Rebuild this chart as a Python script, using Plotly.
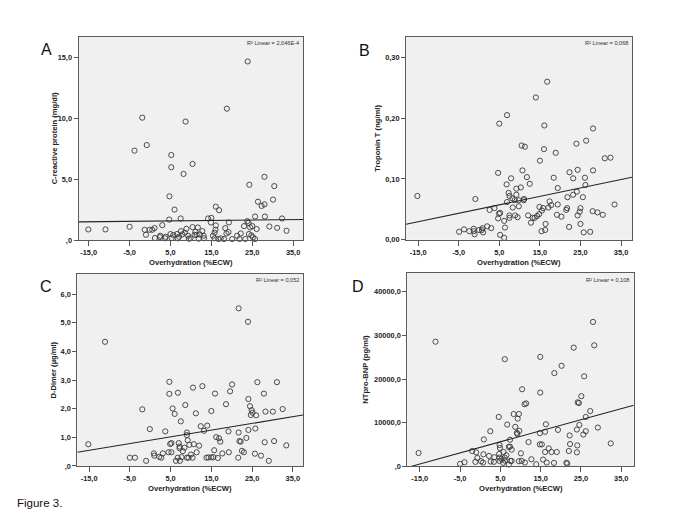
import plotly.graph_objects as go

W, H = 685, 513

# ---------------- data ----------------
x_ticks = [-15, -5, 5, 15, 25, 35]
x_tick_text = ["-15,0", "-5,0", "5,0", "15,0", "25,0", "35,0"]
x_title = "Overhydration (%ECW)"

# Panel A: C-reactive protein
oh_A = [23.9, -1.9, 18.8, 8.7, -0.8, -3.8, 5.2, 5.2, 10.4, 8.2,
        -15.1, -10.9, -5.0, -1.3, -1.0, -0.1, 0.55, 1.1, 3.0, 1.2,
        2.4, 2.5, 3.8, 3.7, 4.75, 6.0, 4.7, 7.5, 5.0, 5.3,
        5.7, 6.6, 6.8, 7.1, 7.6, 7.9, 8.5, 8.9, 9.3, 9.5,
        9.9, 10.4, 10.9, 11.1, 11.4, 11.9, 12.2, 11.7, 12.8, 13.1,
        13.2, 14.2, 15.0, 14.9, 16.1, 16.0, 16.1, 16.9, 15.4, 15.8,
        15.8, 16.7, 17.3, 18.1, 18.4, 18.7, 19.3, 19.2, 20.1, 21.3,
        21.9, 22.2, 23.0, 23.3, 23.8, 24.1, 24.3, 24.2, 24.5, 24.8,
        25.0, 25.2, 25.7, 25.7, 26.1, 26.4, 27.3, 28.0, 28.1, 28.0,
        29.2, 30.1, 30.4, 31.1, 32.3, 33.4]
crp_A = [14.67, 10.05, 10.79, 9.73, 7.8, 7.34, 6.98, 5.98, 6.25, 5.43,
         0.87, 0.87, 1.09, 0.84, 0.43, 0.84, 0.84, 0.98, 1.22, 0.16,
         0.24, 0.35, 0.27, 0.14, 3.59, 2.5, 1.68, 1.77, 0.49, 0.16,
         0.41, 0.49, 0.14, 0.27, 0.73, 0.46, 0.6, 0.92, 0.35, 0.11,
         0.14, 1.06, 0.43, 0.68, 0.43, 0.11, 0.46, 1.03, 0.73, 0.35,
         0.14, 1.77, 1.82, 1.44, 1.2, 0.84, 2.74, 2.45, 0.35, 0.6,
         0.14, 0.08, 0.14, 0.08, 0.98, 0.54, 1.44, 0.65, 0.08, 0.35,
         0.08, 0.54, 1.14, 0.08, 1.55, 1.41, 4.54, 0.49, 1.03, 0.38,
         1.14, 0.22, 0.08, 1.93, 0.9, 3.15, 2.8, 2.93, 1.93, 5.19,
         1.11, 3.32, 4.43, 1.0, 1.77, 0.76]

# Panel B: Troponin T
oh_B = [16.8, 14.0, 6.9, 5.0, 16.1, 28.1,
        -15.2, -0.9, -4.9, -3.7, -2.4, -1.3, -1.3, -1.1, 0.0, 0.7,
        0.9, 1.0, 2.0, 3.0, 2.6, 3.8, 4.7, 4.7, 4.9, 5.2,
        5.2, 6.2, 6.4, 6.2, 6.8, 6.9, 7.3, 7.5, 7.9, 7.5,
        7.5, 8.2, 8.3, 8.8, 8.9, 9.2, 9.2, 9.5, 9.8, 9.8,
        10.3, 10.7, 11.0, 11.8, 12.1, 12.5, 12.8, 13.2, 13.7, 14.3,
        14.8, 14.9, 15.0, 15.4, 15.5, 15.8, 16.0, 16.3, 16.4, 17.4,
        17.1, 17.8, 18.4, 18.9, 19.2, 19.4, 19.4, 20.3, 21.5, 21.7,
        21.8, 22.2, 22.3, 23.2, 23.2, 24.0, 24.1, 24.3, 24.3, 24.8,
        25.0, 25.0, 25.6, 25.8, 26.1, 26.2, 26.4, 27.4, 28.0, 28.1,
        29.2, 30.5, 31.0, 32.4, 33.4, 10.5, 11.3, 11.1]
tnt_B = [0.260, 0.234, 0.205, 0.191, 0.188, 0.183,
         0.072, 0.067, 0.013, 0.017, 0.014, 0.018, 0.014, 0.009, 0.016, 0.016,
         0.019, 0.012, 0.022, 0.019, 0.049, 0.052, 0.110, 0.035, 0.043, 0.044,
         0.008, 0.003, 0.020, 0.031, 0.091, 0.062, 0.077, 0.072, 0.101, 0.040,
         0.036, 0.068, 0.053, 0.065, 0.040, 0.084, 0.074, 0.037, 0.065, 0.055,
         0.086, 0.114, 0.065, 0.103, 0.040, 0.092, 0.028, 0.036, 0.036, 0.039,
         0.042, 0.054, 0.130, 0.014, 0.048, 0.052, 0.149, 0.016, 0.026, 0.063,
         0.053, 0.057, 0.102, 0.143, 0.041, 0.085, 0.058, 0.038, 0.049, 0.052,
         0.070, 0.021, 0.111, 0.101, 0.074, 0.158, 0.079, 0.115, 0.040, 0.046,
         0.052, 0.026, 0.070, 0.012, 0.102, 0.090, 0.163, 0.013, 0.047, 0.114,
         0.045, 0.041, 0.134, 0.135, 0.058, 0.155, 0.153, 0.067]

# Panel C: D-Dimer
oh_C = [21.7, 24.0, -11.1,
        -15.2, -5.0, -3.75, -1.0, -1.95, -0.1, 0.9, 1.0, 2.2, 2.7,
        3.1, 3.7, 4.7, 4.7, 4.5, 4.9, 5.2, 5.5, 5.2, 6.0,
        6.3, 6.8, 6.75, 7.0, 7.2, 7.3, 7.5, 7.7, 8.0, 8.4,
        8.6, 9.0, 9.0, 9.2, 9.4, 9.6, 10.0, 10.4, 10.5, 10.7,
        11.2, 11.4, 12.0, 12.4, 12.8, 13.2, 13.8, 14.0, 14.3, 15.0,
        15.0, 15.5, 15.7, 15.9, 16.2, 16.6, 16.9, 17.2, 17.7, 18.6,
        19.2, 19.3, 19.6, 20.1, 21.6, 21.7, 21.9, 22.2, 22.5, 23.0,
        23.6, 24.1, 24.1, 24.5, 24.7, 24.9, 25.1, 25.7, 25.8, 26.0,
        26.3, 27.2, 27.9, 28.1, 28.3, 29.1, 30.1, 30.4, 31.1, 32.5,
        33.4, 9.0, 7.2]
dd_C = [5.51, 5.04, 4.34,
        0.76, 0.29, 0.29, 0.18, 1.98, 1.29, 0.44, 0.36, 0.32, 0.29,
        0.44, 1.21, 2.94, 2.52, 0.48, 0.77, 0.80, 2.01, 0.48, 1.82,
        0.18, 2.56, 0.29, 0.80, 0.68, 0.18, 1.56, 0.31, 0.52, 0.64,
        2.13, 0.29, 1.17, 0.90, 0.29, 0.74, 0.40, 0.29, 2.74, 0.76,
        1.84, 0.48, 0.71, 1.39, 2.79, 1.23, 0.29, 1.41, 0.30, 1.92,
        0.30, 0.31, 0.55, 2.53, 1.01, 0.28, 0.97, 0.85, 0.44, 2.16,
        1.21, 0.48, 2.61, 2.85, 0.29, 1.17, 0.87, 0.85, 0.53, 0.48,
        0.98, 2.34, 1.26, 2.09, 1.78, 1.95, 1.86, 0.43, 1.31, 1.77,
        2.93, 0.36, 2.53, 0.83, 1.90, 0.18, 1.90, 0.87, 2.93, 1.99,
        0.72, 1.08, 0.62]

# Panel D: NTpro-BNP
oh_D = [-11.1, -15.3, 28.3, 23.2, 6.1, 14.9, 20.2, 18.4, 25.8, 14.9,
        10.4, 11.0, 11.4, 25.1, 24.2, 24.5, 27.3, 26.2, 4.6, 8.3,
        9.6, 9.3, 6.7, 2.5, 24.6, 16.3, 29.2, 9.1, 9.2, 9.7,
        8.7, 26.2, 24.0, 14.8, 16.1, 19.3, 25.6, 0.9, 7.4, 12.0,
        14.8, 15.3, 4.8, 4.9, 7.1, 7.4, 7.8, 5.8, 4.7, 6.5,
        6.1, 5.3, 4.8, 10.1, 22.2, 22.3, 24.1, 24.0, 22.0, 17.0,
        17.7, 19.0, 16.1, 32.4, -2.0, -1.0, 0.8, -0.7, 0.2, -1.2,
        2.6, 2.2, 0.7, 3.5, 3.4, -3.9, -5.0, 4.8, 6.1, 7.5,
        7.1, 5.7, 9.6, 10.3, 11.1, 12.7, 13.9, 15.6, 16.5, 18.3,
        21.4, 28.0, 7.8, 21.6]
bnp_D = [28560, 3030, 27730, 27200, 24550, 25080, 23030, 21360, 20610, 16890,
         17650, 14200, 14400, 16060, 14650, 14500, 12650, 11290, 11290, 11970,
         11970, 10910, 9550, 8030, 9470, 9620, 8860, 7650, 7400, 8110,
         9020, 8030, 8410, 7580, 7900, 8330, 7270, 6140, 6060, 5530,
         5000, 5000, 4850, 4170, 4430, 4470, 3790, 3260, 2800, 2500,
         1970, 1590, 1970, 2950, 7050, 5080, 4770, 3180, 3480, 4090,
         3260, 3260, 3260, 5230, 3480, 3180, 2730, 1900, 1140, 990,
         1060, 2350, 830, 2050, 990, 910, 530, 1210, 1290, 1210,
         380, 760, 1140, 1210, 830, 1590, 450, 1520, 830, 760,
         800, 33100, 1210, 600]

# linear fits (slope, intercept) and R² labels
fit_A = (0.00345, 1.55)
fit_B = (0.001386, 0.0505)
fit_C = (0.02347, 0.90)
fit_D = (254.0, 4318.0)
r2_A = "2,046E-4"
r2_B = "0,068"
r2_C = "0,052"
r2_D = "0,108"

y_titles = ["C-reactive protein (mg/dl)", "Troponin T (ng/ml)",
            "D-Dimer (µg/ml)", "NTpro-BNP (pg/ml)"]
letters = ["A", "B", "C", "D"]

yticks_A = [0, 5, 10, 15]
yticktext_A = [",0", "5,0", "10,0", "15,0"]
yticks_B = [0, 0.1, 0.2, 0.3]
yticktext_B = ["0,00", "0,10", "0,20", "0,30"]
yticks_C = [0, 1, 2, 3, 4, 5, 6]
yticktext_C = [",0", "1,0", "2,0", "3,0", "4,0", "5,0", "6,0"]
yticks_D = [0, 10000, 20000, 30000, 40000]
yticktext_D = [",0", "10000,0", "20000,0", "30000,0", "40000,0"]

# ---------------- layout geometry (pixels) ----------------
panels = [
    dict(x=oh_A, y=crp_A, fit=fit_A, r2=r2_A, box=(70.5, 29, 295.3, 234.3),
         xr=[-17.5, 37.5], yr=[0, 16.7], yt=yticks_A, ytt=yticktext_A,
         ytx=46, letter=(38, 41.5)),
    dict(x=oh_B, y=tnt_B, fit=fit_B, r2=r2_B, box=(398, 29, 624, 234),
         xr=[-18.0, 37.7], yr=[0, 0.334], yt=yticks_B, ytt=yticktext_B,
         ytx=369.5, letter=(356, 43)),
    dict(x=oh_C, y=dd_C, fit=fit_C, r2=r2_C, box=(69.3, 268.3, 295, 462.5),
         xr=[-17.9, 37.5], yr=[0, 6.72], yt=yticks_C, ytt=yticktext_C,
         ytx=45.7, letter=(37.5, 281)),
    dict(x=oh_D, y=bnp_D, fit=fit_D, r2=r2_D, box=(399.3, 267.7, 625.7, 462.7),
         xr=[-18.1, 38.1], yr=[0, 44300], yt=yticks_D, ytt=yticktext_D,
         ytx=358, letter=(350, 281)),
]

FONT = "Liberation Sans, Arial, sans-serif"
tick_font = dict(family=FONT, size=7.4, color="#222222", weight="bold")
title_font = dict(family=FONT, size=7.6, color="#222222", weight="bold")

fig = go.Figure()
annotations = []
layout = {}

for i, p in enumerate(panels):
    n = "" if i == 0 else str(i + 1)
    xa, ya = "x" + n, "y" + n
    l, t, r, b = p["box"]
    xdom = [l / W, r / W]
    ydom = [1 - b / H, 1 - t / H]

    fig.add_trace(go.Scatter(
        x=p["x"], y=p["y"], mode="markers", xaxis=xa, yaxis=ya,
        marker=dict(symbol="circle-open", size=5.2, color="#3a3a3a",
                    line=dict(width=0.9, color="#3a3a3a")),
        cliponaxis=False, showlegend=False, hoverinfo="skip"))
    slope, icpt = p["fit"]
    lx = [p["xr"][0], p["xr"][1]]
    ly = [icpt + slope * v for v in lx]
    fig.add_trace(go.Scatter(
        x=lx, y=ly, mode="lines", xaxis=xa, yaxis=ya,
        line=dict(color="#222222", width=1.1),
        showlegend=False, hoverinfo="skip"))

    layout["xaxis" + n] = dict(
        domain=xdom, anchor=ya, range=p["xr"], tickvals=x_ticks,
        ticktext=x_tick_text, ticks="outside", ticklen=5, tickwidth=1,
        tickcolor="#555555", showline=True, linecolor="#5a5a5a",
        linewidth=1, mirror=True, showgrid=False, zeroline=False,
        tickfont=tick_font, fixedrange=True)
    layout["yaxis" + n] = dict(
        domain=ydom, anchor=xa, range=p["yr"], tickvals=p["yt"],
        ticktext=p["ytt"], ticks="outside", ticklen=4, tickwidth=1,
        tickcolor="#555555", showline=True, linecolor="#5a5a5a",
        linewidth=1, mirror=True, showgrid=False, zeroline=False,
        tickfont=tick_font, fixedrange=True)

    # axis titles
    annotations.append(dict(
        text=x_title, xref="paper", yref="paper",
        x=(l + r) / 2 / W, y=1 - (b + 22.5) / H, xanchor="center",
        yanchor="middle", showarrow=False, font=title_font))
    annotations.append(dict(
        text=y_titles[i], xref="paper", yref="paper",
        x=p["ytx"] / W, y=1 - (t + b) / 2 / H, xanchor="center",
        yanchor="middle", textangle=-90, showarrow=False, font=title_font))
    # R² label
    annotations.append(dict(
        text="R² Linear = " + p["r2"], xref="paper", yref="paper",
        x=(r - 2.5) / W, y=1 - (t + 6.5) / H, xanchor="right",
        yanchor="middle", showarrow=False,
        font=dict(family=FONT, size=5.6, color="#333333")))
    # panel letter
    lx_, ly_ = p["letter"]
    annotations.append(dict(
        text=letters[i], xref="paper", yref="paper",
        x=lx_ / W, y=1 - ly_ / H, xanchor="center", yanchor="middle",
        showarrow=False, font=dict(family=FONT, size=16, color="#111111")))

annotations.append(dict(
    text="Figure 3.", xref="paper", yref="paper", x=7 / W, y=1 - 500 / H,
    xanchor="left", yanchor="middle", showarrow=False,
    font=dict(family=FONT, size=11.5, color="#111111")))

fig.update_layout(
    width=W, height=H, margin=dict(l=0, r=0, t=0, b=0),
    paper_bgcolor="white", plot_bgcolor="#f0f0f0",
    annotations=annotations, showlegend=False, **layout)

fig.write_html("out.html", config={"displayModeBar": False})
